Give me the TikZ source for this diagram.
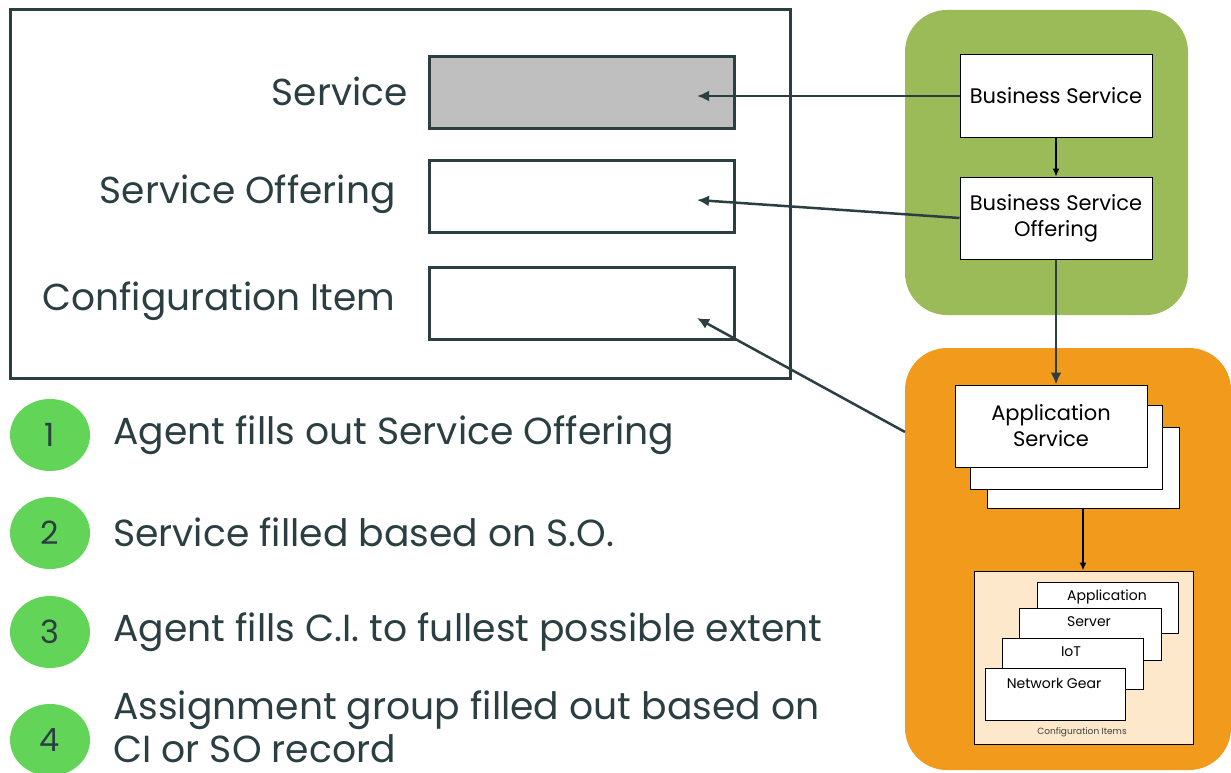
\documentclass[tikz,border=0pt]{standalone}
\usepackage{fontspec}
\setmainfont{Poppins}
\usetikzlibrary{arrows.meta,shapes.geometric}

\definecolor{ink}{HTML}{2B3F42}
\definecolor{fieldgray}{HTML}{BFBFBF}
\definecolor{leafgreen}{HTML}{9BBB59}
\definecolor{amber}{HTML}{F29A1B}
\definecolor{peach}{HTML}{FDE8CB}
\definecolor{dotgreen}{HTML}{62D558}

\tikzset{
  field/.style={draw=ink, line width=3pt, minimum width=305pt, minimum height=72pt, inner sep=0pt},
  formlabel/.style={anchor=east, text=ink, font=\fontsize{37.5}{42}\selectfont},
  cibox/.style={draw=black, fill=white, line width=1pt, inner sep=0pt},
  panel/.style={rounded corners=42pt, inner sep=0pt},
  dot/.style={ellipse, fill=dotgreen, minimum width=80pt, minimum height=72pt, inner sep=0pt,
    text=ink, font=\fontsize{32}{36}\selectfont},
  steptext/.style={anchor=west, text=ink, align=left, inner sep=0pt, font=\fontsize{37.7}{43}\selectfont},
  link/.style={draw=ink, line width=2.5pt, -{Latex[length=12pt,width=11pt]}},
  thinlink/.style={draw=black, line width=1.2pt, -{Latex[length=8pt,width=7pt]}}
}

\begin{document}
\begin{tikzpicture}[x=1pt,y=-1pt]
  \useasboundingbox (0,0) rectangle (1231,773);

  % Formulario
  \node[draw=ink, line width=3pt, minimum width=780pt, minimum height=368pt, inner sep=0pt] (form) at (400,194) {};
  \node[field, fill=fieldgray] (svc) at (581.5,93) {};
  \node[field] (so) at (581.5,196.5) {};
  \node[field] (ci) at (581.5,303.5) {};
  \node[formlabel] (svclabel) at (411,91) {Service};
  \node[formlabel] (solabel) at (399,194) {Service Offering};
  \node[formlabel] (cilabel) at (399,301) {Configuration Item};
  \coordinate (svcin) at (697,96);
  \coordinate (soin) at (697,200);
  \coordinate (ciin) at (697,318);

  % Paneles de color
  \node[panel, fill=leafgreen, minimum width=283pt, minimum height=305pt] (biz) at (1046.5,162.5) {};
  \node[panel, fill=amber, minimum width=326pt, minimum height=422pt] (app) at (1068,559) {};
  \coordinate (appedge) at (905,432);

  % Servicios de negocio
  \node[cibox, minimum width=192pt, minimum height=83pt, font=\fontsize{21}{24}\selectfont] (bs) at (1056,96) {Business Service};
  \node[cibox, minimum width=192pt, minimum height=82pt, align=center, font=\fontsize{21}{26}\selectfont] (bso) at (1056,218) {Business Service\\Offering};

  % Servicio de aplicacion (pila)
  \node[cibox, minimum width=192pt, minimum height=81pt] (as3) at (1083,467.5) {};
  \node[cibox, minimum width=192pt, minimum height=84pt] (as2) at (1066,447) {};
  \node[cibox, minimum width=192pt, minimum height=82pt, align=center, font=\fontsize{21}{26}\selectfont] (as) at (1051,426) {Application\\Service};

  % Elementos de configuracion
  \node[cibox, fill=peach, minimum width=219pt, minimum height=173pt] (cis) at (1083.5,657.5) {};
  \node[cibox, minimum width=141pt, minimum height=51pt] (appci) at (1107.5,607.5) {};
  \node[font=\fontsize{14}{16}\selectfont] at (1107,597) {Application};
  \node[cibox, minimum width=142pt, minimum height=52pt] (srv) at (1090,634) {};
  \node[font=\fontsize{14}{16}\selectfont] at (1089,622) {Server};
  \node[cibox, minimum width=141pt, minimum height=51pt] (iot) at (1072.5,663.5) {};
  \node[font=\fontsize{14}{16}\selectfont] at (1071,652) {IoT};
  \node[cibox, minimum width=140pt, minimum height=52pt] (net) at (1055,694) {};
  \node[font=\fontsize{14}{16}\selectfont] at (1054,683) {Network Gear};
  \node[font=\fontsize{9}{11}\selectfont, text=black!75] (cislabel) at (1082,732) {Configuration Items};

  % Conectores
  \draw[link] (bs.west) -- (svcin);
  \draw[link] (bso.west) -- (soin);
  \draw[link] (appedge) -- (ciin);
  \draw[thinlink] (bs.south) -- (bso.north);
  \draw[link] (bso.south) -- (bso.south |- as.north);
  \draw[thinlink, line width=2pt] (as3.south) -- (cis.north -| as3.south);

  % Pasos
  \node[dot] (d1) at (50,435) {1};
  \node[dot] (d2) at (50,533) {2};
  \node[dot] (d3) at (50,632) {3};
  \node[dot] (d4) at (50,740) {4};
  \node[steptext] (t1) at (113,435) {Agent fills out Service Offering};
  \node[steptext] (t2) at (113,532) {Service filled based on S.O.};
  \node[steptext] (t3) at (113,632) {Agent fills C.I. to fullest possible extent};
  \node[steptext] (t4) at (113,727) {Assignment group filled out based on\\CI or SO record};
\end{tikzpicture}
\end{document}
